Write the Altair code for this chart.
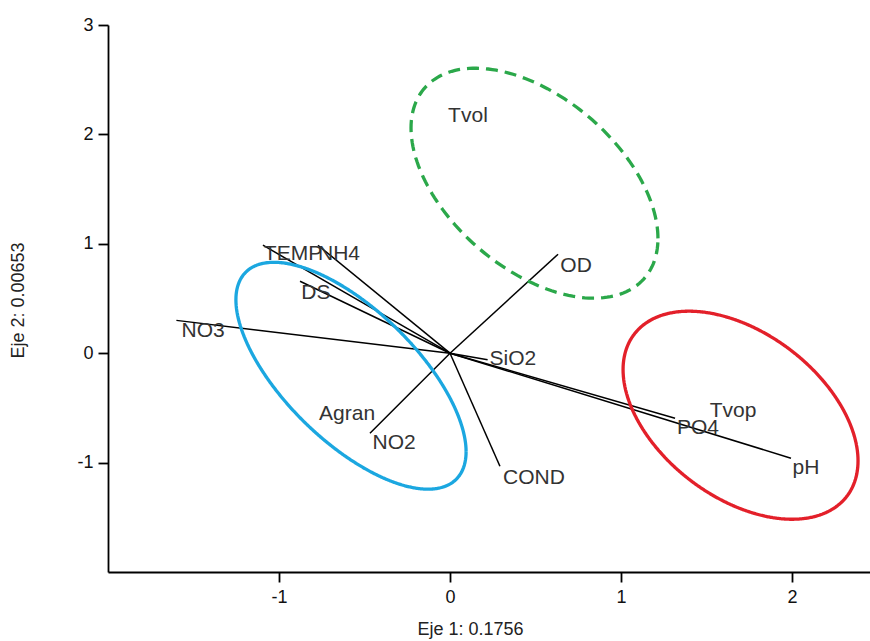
import altair as alt
import numpy as np
import pandas as pd

# Environmental variables: biplot arrow tips (Eje 1, Eje 2)
vec_names = ["TEMP", "NH4", "DS", "NO3", "OD", "SiO2", "NO2", "COND", "PO4", "pH"]
vec_x = [-1.094, -0.772, -0.877, -1.600, 0.632, 0.220, -0.468, 0.292, 1.316, 1.994]
vec_y = [0.987, 0.987, 0.658, 0.300, 0.905, -0.060, -0.731, -1.033, -0.594, -0.960]

# Text labels for variables and group scores
label_names = ["TEMP", "NH4", "DS", "NO3", "OD", "SiO2", "Agran", "NO2",
               "COND", "Tvop", "PO4", "pH", "Tvol"]
label_x = [-0.918, -0.649, -0.784, -1.444, 0.737, 0.368, -0.602, -0.327,
           0.491, 1.655, 1.450, 2.082, 0.105]
label_y = [0.905, 0.905, 0.548, 0.201, 0.795, -0.055, -0.558, -0.823,
           -1.143, -0.530, -0.686, -1.051, 2.166]

# Group ellipses: centre, half-extent along each axis, phase lag (degrees)
ell_groups = ["Tvol", "Agran", "Tvop"]
ell_cx = [0.494, -0.579, 1.699]
ell_cy = [1.554, -0.206, -0.567]
ell_rx = [0.722, 0.673, 0.687]
ell_ry = [1.051, 1.037, 0.951]
ell_lag = [118.7, 132.0, 116.0]
ell_colors = ["#2BA84A", "#1BA7E0", "#E3202A"]
ell_dash = [[12, 7], [1, 0], [1, 0]]

FONT = "Liberation Sans"

vec_df = pd.DataFrame({"name": vec_names, "x": vec_x, "y": vec_y,
                       "x0": 0.0, "y0": 0.0})
lab_df = pd.DataFrame({"name": label_names, "x": label_x, "y": label_y})

rows = []
t = np.linspace(0, 2 * np.pi, 181)
for g, cx, cy, rx, ry, lag in zip(ell_groups, ell_cx, ell_cy, ell_rx, ell_ry, ell_lag):
    ex = cx + rx * np.cos(t)
    ey = cy + ry * np.cos(t - np.deg2rad(lag))
    for i, (a, b) in enumerate(zip(ex, ey)):
        rows.append({"group": g, "step": i, "x": a, "y": b})
ell_df = pd.DataFrame(rows)

xs = alt.Scale(domain=[-2, 2.456], nice=False, zero=False)
ys = alt.Scale(domain=[-2, 3], nice=False, zero=False)

x_axis = alt.Axis(
    values=[-1, 0, 1, 2], grid=False, title="Eje 1: 0.1756",
    domainColor="black", domainWidth=1.8, tickColor="black", tickWidth=1.8,
    tickSize=10, labelFont=FONT, labelFontSize=18, labelColor="#111",
    labelPadding=6, labelExpr="'' + datum.value",
    titleFont=FONT, titleFontSize=18, titleFontWeight="normal", titleColor="#222",
    titleX=362, titleY=57, titleAlign="center", titleBaseline="middle",
)
y_axis = alt.Axis(
    values=[-1, 0, 1, 2, 3], grid=False, title="Eje 2: 0.00653",
    domainColor="black", domainWidth=1.8, tickColor="black", tickWidth=1.8,
    tickSize=10, labelFont=FONT, labelFontSize=18, labelColor="#111",
    labelPadding=5, labelExpr="'' + datum.value",
    titleFont=FONT, titleFontSize=18, titleFontWeight="normal", titleColor="#222",
    titleX=-90, titleY=275, titleAngle=-90, titleAlign="center",
    titleBaseline="middle",
)

arrows = alt.Chart(vec_df).mark_rule(color="black", strokeWidth=1.5).encode(
    x=alt.X("x0:Q", scale=xs, axis=x_axis),
    y=alt.Y("y0:Q", scale=ys, axis=y_axis),
    x2="x:Q",
    y2="y:Q",
)

ellipses = alt.Chart(ell_df).mark_line(strokeWidth=3.3).encode(
    x=alt.X("x:Q", scale=xs),
    y=alt.Y("y:Q", scale=ys),
    detail="group:N",
    order="step:Q",
    color=alt.Color("group:N", scale=alt.Scale(domain=ell_groups, range=ell_colors),
                    legend=None),
    strokeDash=alt.StrokeDash("group:N",
                              scale=alt.Scale(domain=ell_groups, range=ell_dash),
                              legend=None),
)

labels = alt.Chart(lab_df).mark_text(
    font=FONT, fontSize=21, color="#333333", align="center", baseline="middle"
).encode(
    x=alt.X("x:Q", scale=xs),
    y=alt.Y("y:Q", scale=ys),
    text="name:N",
)

chart = alt.layer(arrows, ellipses, labels).properties(
    width=762, height=547,
    padding={"left": 108, "top": 25, "right": 0, "bottom": 69},
    autosize=alt.AutoSizeParams(type="none"),
    background="white",
).configure_view(stroke=None)

chart.save("out.html", embed_options={"renderer": "svg", "actions": False})
